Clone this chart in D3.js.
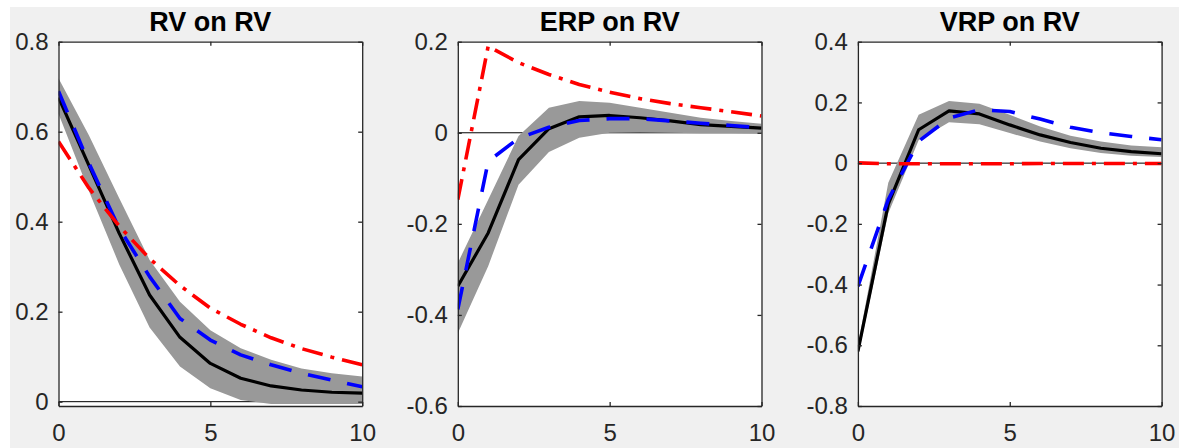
<!DOCTYPE html>
<html>
<head>
<meta charset="utf-8">
<script src="https://cdn.jsdelivr.net/npm/d3@7"></script>
<style>
  html, body { margin: 0; padding: 0; background: #ffffff; }
  svg { display: block; }
  text { font-family: "Liberation Sans", Arial, Helvetica, sans-serif; }
</style>
</head>
<body>
<svg id="chart" width="1179" height="448"></svg>
<script>
// ---- data ----
const steps = [0, 1, 2, 3, 4, 5, 6, 7, 8, 9, 10];
const xTicks = [0, 5, 10];

const titles = ["RV on RV", "ERP on RV", "VRP on RV"];
const yDomains = [[-0.0096, 0.8], [-0.6, 0.2], [-0.8, 0.4]];
const yTicks1 = [0, 0.2, 0.4, 0.6, 0.8];
const yTicks2 = [-0.6, -0.4, -0.2, 0, 0.2];
const yTicks3 = [-0.8, -0.6, -0.4, -0.2, 0, 0.2, 0.4];

// Panel 1: RV on RV
const rvEst   = [0.676, 0.525, 0.374, 0.237, 0.143, 0.085, 0.052, 0.035, 0.026, 0.021, 0.019];
const rvUpper = [0.719, 0.592, 0.452, 0.315, 0.222, 0.159, 0.119, 0.093, 0.074, 0.063, 0.056];
const rvLower = [0.640, 0.468, 0.305, 0.165, 0.078, 0.030, 0.004, -0.005, -0.005, -0.005, -0.005];
const rvBlue  = [0.690, 0.530, 0.385, 0.278, 0.185, 0.137, 0.104, 0.082, 0.063, 0.048, 0.033];
const rvRed   = [0.578, 0.475, 0.390, 0.318, 0.258, 0.208, 0.172, 0.142, 0.118, 0.099, 0.082];

// Panel 2: ERP on RV
const erpEst   = [-0.337, -0.220, -0.059, 0.009, 0.035, 0.038, 0.033, 0.026, 0.018, 0.014, 0.010];
const erpUpper = [-0.286, -0.147, -0.007, 0.055, 0.070, 0.066, 0.055, 0.044, 0.033, 0.026, 0.020];
const erpLower = [-0.440, -0.293, -0.114, -0.042, -0.011, 0.000, 0.001, 0.000, -0.001, -0.001, -0.002];
const erpBlue  = [-0.388, -0.063, -0.012, 0.012, 0.027, 0.031, 0.031, 0.026, 0.021, 0.016, 0.011];
const erpRed   = [-0.147, 0.190, 0.154, 0.128, 0.106, 0.089, 0.075, 0.064, 0.055, 0.046, 0.037];

// Panel 3: VRP on RV
const vrpEst   = [-0.620, -0.135, 0.110, 0.172, 0.162, 0.126, 0.093, 0.068, 0.049, 0.038, 0.031];
const vrpUpper = [-0.600, -0.065, 0.159, 0.205, 0.196, 0.159, 0.121, 0.090, 0.071, 0.058, 0.052];
const vrpLower = [-0.638, -0.165, 0.075, 0.135, 0.128, 0.099, 0.071, 0.049, 0.033, 0.024, 0.020];
const vrpBlue  = [-0.406, -0.120, 0.072, 0.148, 0.176, 0.170, 0.145, 0.118, 0.100, 0.088, 0.077];
const vrpRed   = [0.001, -0.002, -0.002, -0.002, -0.002, -0.002, -0.001, -0.001, -0.001, -0.001, -0.001];

const panels = [
  { title: titles[0], yDomain: yDomains[0], yTicks: yTicks1, est: rvEst, upper: rvUpper, lower: rvLower, blue: rvBlue, red: rvRed },
  { title: titles[1], yDomain: yDomains[1], yTicks: yTicks2, est: erpEst, upper: erpUpper, lower: erpLower, blue: erpBlue, red: erpRed },
  { title: titles[2], yDomain: yDomains[2], yTicks: yTicks3, est: vrpEst, upper: vrpUpper, lower: vrpLower, blue: vrpBlue, red: vrpRed }
];

// ---- layout ----
const svg = d3.select("#chart");
svg.append("rect").attr("x", 10).attr("y", 7).attr("width", 1169).attr("height", 441).attr("fill", "#f0f0f0");

const panelLefts = [58.5, 457.8, 857.9];
const plotW = 303.7, plotTop = 41.7, plotBottom = 406;
const axisColor = "#262626";

function fmt(d) {
  if (Math.abs(d) < 1e-9) return "0";
  return (Math.round(d * 10) / 10).toString();
}

panels.forEach((p, i) => {
  const left = panelLefts[i];
  const g = svg.append("g");
  const x = d3.scaleLinear().domain([0, 10]).range([left, left + plotW]);
  const y = d3.scaleLinear().domain(p.yDomain).range([plotBottom, plotTop]);

  const clipId = "clip" + i;
  svg.append("clipPath").attr("id", clipId)
    .append("rect").attr("x", left).attr("y", plotTop).attr("width", plotW).attr("height", plotBottom - plotTop);

  g.append("rect").attr("x", left).attr("y", plotTop).attr("width", plotW).attr("height", plotBottom - plotTop).attr("fill", "#ffffff");

  const plot = g.append("g").attr("clip-path", "url(#" + clipId + ")");

  // zero line
  plot.append("line")
    .attr("x1", x(0)).attr("x2", x(10))
    .attr("y1", y(0)).attr("y2", y(0))
    .attr("stroke", "#000").attr("stroke-width", 1);

  // confidence band
  const area = d3.area()
    .x((d, k) => x(steps[k]))
    .y0((d, k) => y(p.lower[k]))
    .y1((d, k) => y(p.upper[k]));
  plot.append("path").datum(steps).attr("d", area).attr("fill", "#999999").attr("stroke", "none");

  const line = arr => d3.line().x((d, k) => x(steps[k])).y((d, k) => y(arr[k]))(steps);

  plot.append("path").attr("d", line(p.est))
    .attr("fill", "none").attr("stroke", "#000").attr("stroke-width", 3.2).attr("stroke-linejoin", "round");
  plot.append("path").attr("d", line(p.blue))
    .attr("fill", "none").attr("stroke", "#0000ff").attr("stroke-width", 3.6)
    .attr("stroke-dasharray", "23,17").attr("stroke-linejoin", "round");
  plot.append("path").attr("d", line(p.red))
    .attr("fill", "none").attr("stroke", "#ff0000").attr("stroke-width", 3.6)
    .attr("stroke-dasharray", "21,8,4,8").attr("stroke-linejoin", "round");

  // axes
  const axB = d3.axisBottom(x).tickValues(xTicks).tickSize(-4).tickSizeOuter(0).tickPadding(18).tickFormat(fmt);
  const axT = d3.axisTop(x).tickValues(xTicks).tickSize(-4).tickSizeOuter(0).tickFormat("");
  const axL = d3.axisLeft(y).tickValues(p.yTicks).tickSize(-4).tickSizeOuter(0).tickPadding(10).tickFormat(fmt);
  const axR = d3.axisRight(y).tickValues(p.yTicks).tickSize(-4).tickSizeOuter(0).tickFormat("");

  const styleAxis = sel => {
    sel.selectAll("path.domain").attr("stroke", axisColor).attr("stroke-width", 1.3);
    sel.selectAll(".tick line").attr("stroke", axisColor).attr("stroke-width", 1.3);
    sel.selectAll(".tick text").attr("fill", axisColor).attr("font-size", 24)
      .attr("font-family", "'Liberation Sans', Arial, Helvetica, sans-serif");
  };

  g.append("g").attr("transform", `translate(0,${plotBottom})`).call(axB).call(styleAxis);
  g.append("g").attr("transform", `translate(0,${plotTop})`).call(axT).call(styleAxis);
  g.append("g").attr("transform", `translate(${left},0)`).call(axL).call(styleAxis);
  g.append("g").attr("transform", `translate(${left + plotW},0)`).call(axR).call(styleAxis);

  // title
  g.append("text")
    .attr("x", left + plotW / 2).attr("y", 31)
    .attr("text-anchor", "middle")
    .attr("font-size", 27).attr("font-weight", "bold").attr("fill", "#000")
    .text(p.title);
});
</script>
</body>
</html>
